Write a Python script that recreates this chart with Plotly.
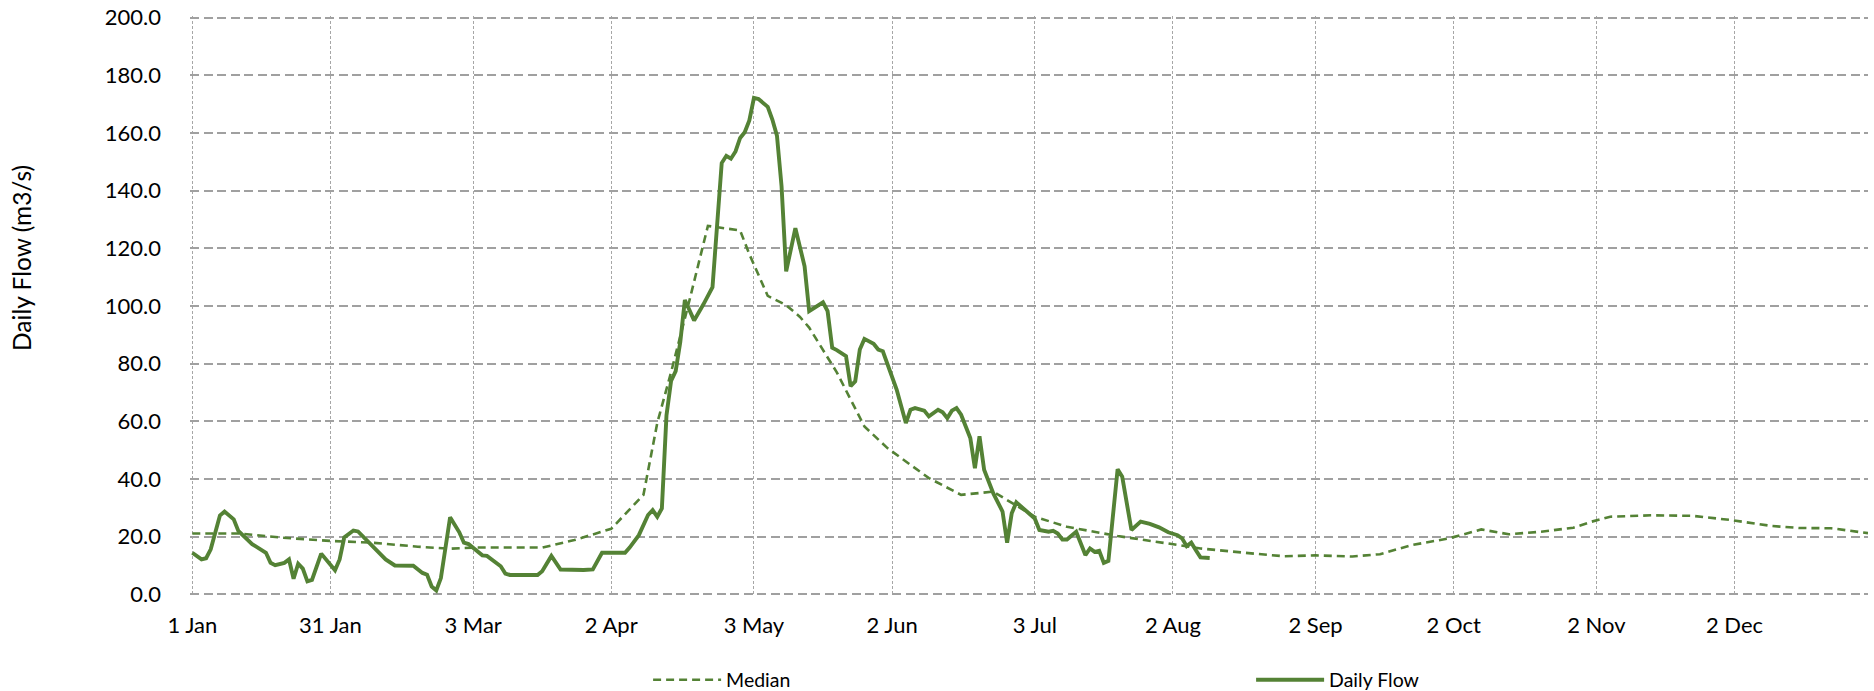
import pandas as pd
import plotly.graph_objects as go

# ---- data (day of year, 2023 non-leap calendar) ----
flow_days = [1, 3, 4, 5, 7, 8, 10, 11, 14, 17, 18, 19, 21, 22, 23, 24, 25, 26, 27, 29,
             32, 33, 34, 36, 37, 39, 41, 43, 45, 49, 51, 52, 53, 54, 55, 57, 59, 60, 61, 63,
             64, 65, 67, 68, 69, 70, 76, 77, 79, 81, 86, 88, 90, 95, 96, 98, 100, 101, 102, 103,
             104, 105, 106, 107, 108, 110, 112, 114, 116, 117, 118, 119, 120, 121, 122, 123, 124, 126, 127, 128,
             129, 130, 132, 134, 135, 138, 139, 140, 141, 143, 144, 145, 146, 147, 149, 150, 151, 154, 155, 156,
             157, 158, 160, 161, 163, 164, 165, 166, 167, 168, 170, 171, 172, 173, 175, 177, 178, 179, 180, 182,
             184, 185, 187, 188, 189, 190, 191, 193, 194, 195, 196, 197, 198, 199, 200, 202, 203, 205, 207, 209,
             211, 213, 215, 216, 217, 218, 219, 220, 222]
flow_vals = [14.4, 12.1, 12.5, 15.6, 27.3, 28.7, 26.0, 22.0, 17.4, 14.4, 10.9, 10.1, 10.9, 12.1, 5.4, 10.6, 8.9, 4.5, 5.0, 14.1,
             8.3, 12.1, 19.7, 22.1, 21.8, 18.5, 15.0, 12.1, 10.0, 9.9, 7.4, 6.8, 2.7, 1.3, 5.6, 26.7, 21.5, 17.9, 17.4, 15.0,
             13.5, 13.3, 10.7, 9.7, 7.2, 6.7, 6.7, 8.0, 13.3, 8.6, 8.4, 8.6, 14.4, 14.4, 16.2, 20.5, 27.5, 29.2, 26.9, 29.8,
             62.0, 74.0, 77.4, 87.5, 102.1, 95.0, 100.5, 106.5, 149.6, 152.1, 151.1, 153.6, 158.3, 160.3, 164.4, 172.2, 171.8, 169.1, 164.7, 159.1,
             141.5, 112.0, 127.0, 113.8, 98.2, 101.3, 98.2, 85.5, 84.7, 82.6, 72.2, 73.9, 84.9, 88.6, 86.9, 84.9, 84.3, 71.0, 65.2, 59.4,
             64.0, 64.6, 63.7, 61.7, 64.0, 63.1, 61.1, 63.7, 64.6, 62.3, 54.2, 43.7, 54.8, 43.2, 35.0, 28.7, 17.9, 28.1, 31.9, 29.2,
             26.3, 22.3, 21.7, 22.0, 21.1, 19.0, 19.0, 21.7, 17.6, 13.6, 15.9, 14.7, 15.1, 10.9, 11.6, 43.4, 40.8, 22.3, 25.2, 24.4,
             23.2, 21.5, 20.5, 19.4, 16.7, 17.9, 15.3, 12.8, 12.6]

median_days = [1, 11, 20, 31, 40, 50, 57, 62, 77, 84, 92, 99, 102, 105, 109, 113, 120, 122, 126, 130,
               133, 135, 141, 147, 152, 161, 168, 175, 181, 184, 191, 202, 213, 220, 231, 238, 245, 253, 259, 266,
               274, 281, 287, 294, 301, 305, 309, 318, 327, 335, 344, 350, 357, 365]
median_vals = [21.1, 21.1, 19.7, 18.5, 17.9, 16.5, 15.8, 16.2, 16.2, 18.8, 22.7, 34.5, 59.4, 77.0, 102.0, 127.8, 126.2, 118.0, 103.5, 100.3,
               96.2, 92.5, 77.0, 58.2, 50.7, 40.3, 34.5, 35.6, 29.8, 26.9, 23.4, 20.2, 17.6, 15.9, 14.2, 13.2, 13.5, 13.1, 13.9, 17.1,
               19.4, 22.5, 20.8, 21.7, 23.1, 25.2, 26.9, 27.4, 27.2, 25.8, 23.7, 23.0, 22.9, 21.2]

tick_dates = ["2023-01-01", "2023-01-31", "2023-03-03", "2023-04-02", "2023-05-03", "2023-06-02",
              "2023-07-03", "2023-08-02", "2023-09-02", "2023-10-02", "2023-11-02", "2023-12-02"]
tick_labels = ["1 Jan", "31 Jan", "3 Mar", "2 Apr", "3 May", "2 Jun",
               "3 Jul", "2 Aug", "2 Sep", "2 Oct", "2 Nov", "2 Dec"]

base = pd.Timestamp("2023-01-01")
flow_x = [base + pd.Timedelta(days=d - 1) for d in flow_days]
median_x = [base + pd.Timedelta(days=d - 1) for d in median_days]

GREEN = "#548235"
FONT = "Lato"

fig = go.Figure()
fig.add_trace(go.Scatter(x=median_x, y=median_vals, mode="lines", name="Median",
                         line=dict(color=GREEN, width=2.6, dash="8px,5px")))
fig.add_trace(go.Scatter(x=flow_x, y=flow_vals, mode="lines", name="Daily Flow",
                         line=dict(color=GREEN, width=3.9)))

fig.update_layout(
    width=1874, height=691,
    margin=dict(l=190, r=6, t=16, b=95, autoexpand=False),
    paper_bgcolor="white", plot_bgcolor="white",
    font=dict(family=FONT, color="#000000"),
    showlegend=True,
    legend=dict(orientation="h", x=0.273, xanchor="left", y=-0.145, yanchor="middle",
                font=dict(size=19.5, family=FONT), itemwidth=68, entrywidth=520,
                bgcolor="rgba(0,0,0,0)", traceorder="normal"),
)
fig.update_xaxes(
    type="date", range=["2022-12-31 12:00", "2023-12-31"],
    tickvals=tick_dates, ticktext=tick_labels,
    showgrid=True, gridcolor="#A6A6A6", gridwidth=1.2, griddash="3px,2px",
    zeroline=False, showline=False, ticks="", ticklabelstandoff=14,
    tickfont=dict(size=22, family=FONT),
)
fig.update_yaxes(
    range=[-0.6, 200.6], dtick=20, tick0=0, tickformat=".1f",
    showgrid=True, gridcolor="#A0A0A0", gridwidth=2.3, griddash="9px,4.5px",
    zeroline=False, showline=False, ticks="", ticklabelstandoff=28,
    tickfont=dict(size=22, family=FONT),
)
fig.add_annotation(text="Daily Flow (m3/s)", textangle=-90, xref="paper", yref="paper",
                   x=(21.5 - 190) / 1678, y=0.582, xanchor="center", yanchor="middle",
                   showarrow=False, font=dict(size=24.5, family=FONT, color="#000000"))

fig.write_html("out.html", config={"displayModeBar": False},
               post_script="document.body.style.margin='0px';document.body.style.overflow='hidden';")
